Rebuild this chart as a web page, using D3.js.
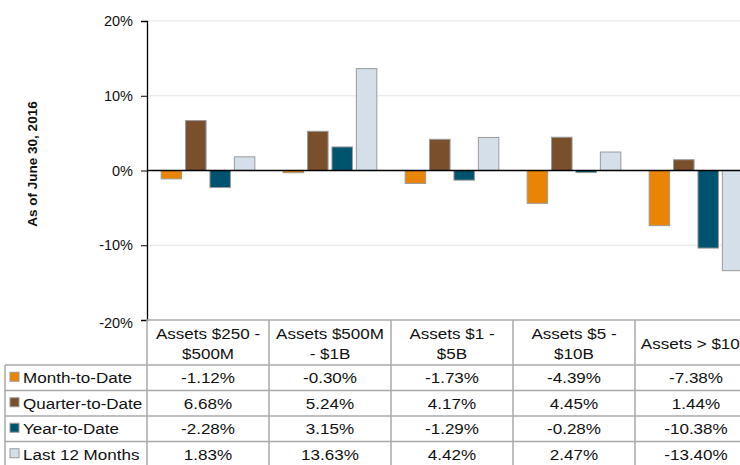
<html>
<head>
  <script src="https://d3js.org/d3.v7.min.js"></script>
  <style>
    body { margin: 0; background: #fff; overflow: hidden; }
    svg text { font-family: "Liberation Sans", Arial, sans-serif; fill: #111; }
  </style>
</head>
<body>
  <div id="chart-container"></div>
  <script>
    // chart data
    const categories = [["Assets $250 -", "$500M"], ["Assets $500M", "- $1B"], ["Assets $1 -", "$5B"], ["Assets $5 -", "$10B"], ["Assets > $10B"]];
    const seriesNames = ["Month-to-Date", "Quarter-to-Date", "Year-to-Date", "Last 12 Months"];
    const monthToDate = [-1.12, -0.30, -1.73, -4.39, -7.38];
    const quarterToDate = [6.68, 5.24, 4.17, 4.45, 1.44];
    const yearToDate = [-2.28, 3.15, -1.29, -0.28, -10.38];
    const last12Months = [1.83, 13.63, 4.42, 2.47, -13.40];
    const yTicks = [-20, -10, 0, 10, 20];
    const colors = ["#ea8404", "#7a4f2c", "#00536f", "#d4dfea"];

    const series = [monthToDate, quarterToDate, yearToDate, last12Months];
    const catKeys = categories.map((c, i) => i);

    const width = 740, height = 465;
    const plotLeft = 147, colW = 122;
    const plotTop = 21, plotBottom = 320;
    const rowH = 25.5, headerBottom = 365;

    const svg = d3.select("#chart-container")
      .append("svg")
      .attr("width", width)
      .attr("height", height);

    const x0 = d3.scaleBand()
      .domain(catKeys)
      .range([plotLeft, plotLeft + colW * categories.length]);

    const x1 = d3.scaleBand()
      .domain(seriesNames)
      .range([0, x0.bandwidth()])
      .paddingInner(0.16)
      .paddingOuter(0.58);

    const y = d3.scaleLinear()
      .domain([-20, 20])
      .range([plotBottom, plotTop]);

    // gridlines
    svg.append("g")
      .selectAll("line")
      .data(yTicks.filter(t => t !== 0 && t !== -20))
      .enter()
      .append("line")
      .attr("x1", plotLeft).attr("x2", width)
      .attr("y1", d => y(d)).attr("y2", d => y(d))
      .attr("stroke", "#e3e3e3")
      .attr("stroke-width", 1);

    // bars
    const groups = svg.append("g")
      .selectAll("g")
      .data(catKeys)
      .enter()
      .append("g")
      .attr("transform", d => `translate(${x0(d)},0)`);

    groups.selectAll("rect")
      .data(ci => seriesNames.map((s, si) => ({ s, si, v: series[si][ci] })))
      .enter()
      .append("rect")
      .attr("x", d => x1(d.s))
      .attr("width", x1.bandwidth())
      .attr("y", d => y(Math.max(0, d.v)))
      .attr("height", d => Math.abs(y(d.v) - y(0)))
      .attr("fill", d => colors[d.si])
      .attr("stroke", "#9a9a9a")
      .attr("stroke-width", 1);

    // zero line
    svg.append("line")
      .attr("x1", plotLeft).attr("x2", width)
      .attr("y1", y(0)).attr("y2", y(0))
      .attr("stroke", "#000").attr("stroke-width", 1.3);

    // y axis
    const yAxis = d3.axisLeft(y)
      .tickValues(yTicks)
      .tickSize(6)
      .tickPadding(8)
      .tickFormat(d => d + "%");

    const gy = svg.append("g")
      .attr("transform", `translate(${plotLeft},0)`)
      .call(yAxis);
    gy.select(".domain").attr("stroke", "#000").attr("stroke-width", 1.3);
    gy.selectAll(".tick line").attr("stroke", "#000");
    gy.selectAll("text")
      .style("font-size", "14.5px")
      .style("font-family", "'Liberation Sans', Arial, sans-serif")
      .attr("fill", "#111");
    gy.selectAll(".tick text").filter(d => d === -20).attr("dy", "0.55em");

    // y title
    svg.append("text")
      .attr("transform", `translate(37, 164) rotate(-90)`)
      .attr("text-anchor", "middle")
      .style("font-size", "13.5px")
      .style("font-weight", "bold")
      .text("As of June 30, 2016");

    // data table
    const table = svg.append("g");
    const border = "#a8a8a8";
    const tableRight = plotLeft + colW * categories.length;

    table.append("line")
      .attr("x1", plotLeft).attr("x2", tableRight)
      .attr("y1", plotBottom).attr("y2", plotBottom)
      .attr("stroke", border).attr("stroke-width", 1.5);

    const rowTops = seriesNames.map((s, i) => headerBottom + i * rowH);
    table.selectAll(".rline")
      .data([headerBottom, ...rowTops.slice(1), headerBottom + seriesNames.length * rowH])
      .enter()
      .append("line")
      .attr("x1", 5).attr("x2", tableRight)
      .attr("y1", d => d).attr("y2", d => d)
      .attr("stroke", border).attr("stroke-width", 1.5);

    // vertical lines
    table.selectAll(".vline")
      .data(catKeys.map(c => x0(c)).concat([tableRight]))
      .enter()
      .append("line")
      .attr("x1", d => d).attr("x2", d => d)
      .attr("y1", plotBottom).attr("y2", height)
      .attr("stroke", border).attr("stroke-width", 1.5);
    table.append("line")
      .attr("x1", 5).attr("x2", 5)
      .attr("y1", headerBottom).attr("y2", height)
      .attr("stroke", border).attr("stroke-width", 1.5);

    // header text
    catKeys.forEach(ci => {
      const lines = categories[ci];
      const cx = x0(ci) + x0.bandwidth() / 2;
      const t = table.append("text")
        .attr("text-anchor", "middle")
        .attr("transform", `translate(${cx},0) scale(1.1,1)`)
        .style("font-size", "15.5px");
      lines.forEach((l, li) => {
        t.append("tspan")
          .attr("x", 0)
          .attr("y", lines.length === 1 ? 349 : 339 + li * 20)
          .text(l);
      });
    });

    // rows
    seriesNames.forEach((s, si) => {
      const cy = rowTops[si] + rowH / 2;
      table.append("rect")
        .attr("x", 10).attr("y", cy - 5.5)
        .attr("width", 9).attr("height", 9)
        .attr("fill", colors[si])
        .attr("stroke", "#9a9a9a").attr("stroke-width", 1);
      table.append("text")
        .attr("transform", `translate(23,${cy + 5.5}) scale(1.1,1)`)
        .style("font-size", "15.5px")
        .text(s);
      catKeys.forEach(ci => {
        table.append("text")
          .attr("text-anchor", "middle")
          .attr("transform", `translate(${x0(ci) + x0.bandwidth() / 2},${cy + 5.5}) scale(1.1,1)`)
          .style("font-size", "15.5px")
          .text(series[si][ci].toFixed(2) + "%");
      });
    });
  </script>
</body>
</html>
